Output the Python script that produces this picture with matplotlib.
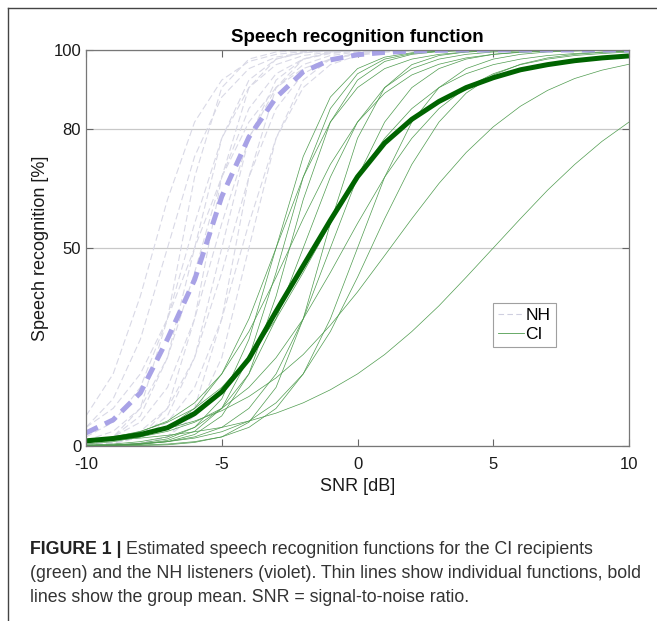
import matplotlib
matplotlib.use("Agg")
import matplotlib.pyplot as plt
from matplotlib.lines import Line2D

plt.rcParams['font.family'] = ['Liberation Sans', 'DejaVu Sans']
plt.rcParams['axes.unicode_minus'] = False

# SNR grid (dB)
snr = [-10, -9, -8, -7, -6, -5, -4, -3, -2, -1, 0, 1, 2, 3, 4, 5, 6, 7, 8, 9, 10]

# individual NH listeners (%)
nh_curves = [
    [7.6, 18.2, 37.8, 62.2, 81.8, 92.4, 97.1, 98.9, 99.6, 99.8, 99.9, 100, 100, 100, 100, 100, 100, 100, 100, 100, 100],
    [4.7, 11.9, 26.9, 50, 73.1, 88.1, 95.3, 98.2, 99.3, 99.75, 99.9, 100, 100, 100, 100, 100, 100, 100, 100, 100, 100],
    [0.5, 2.3, 9.5, 32.1, 67.9, 90.5, 97.7, 99.5, 99.9, 100, 100, 100, 100, 100, 100, 100, 100, 100, 100, 100, 100],
    [2.3, 6.0, 14.8, 32.1, 56.2, 77.7, 90.5, 96.3, 98.6, 99.5, 99.8, 99.9, 100, 100, 100, 100, 100, 100, 100, 100, 100],
    [0.7, 2.3, 7.6, 22.3, 50, 77.7, 92.4, 97.7, 99.3, 99.8, 99.9, 100, 100, 100, 100, 100, 100, 100, 100, 100, 100],
    [1.4, 3.7, 9.5, 22.3, 43.8, 67.9, 85.2, 94.0, 97.7, 99.1, 99.7, 99.9, 100, 100, 100, 100, 100, 100, 100, 100, 100],
    [0.1, 0.5, 2.3, 9.5, 32.1, 67.9, 90.5, 97.7, 99.5, 99.9, 100, 100, 100, 100, 100, 100, 100, 100, 100, 100, 100],
    [0.9, 2.3, 6.0, 14.8, 32.1, 56.2, 77.7, 90.5, 96.3, 98.6, 99.5, 99.8, 99.9, 100, 100, 100, 100, 100, 100, 100, 100],
    [0.2, 0.7, 2.3, 7.6, 22.3, 50, 77.7, 92.4, 97.7, 99.3, 99.8, 99.9, 100, 100, 100, 100, 100, 100, 100, 100, 100],
    [0.5, 1.4, 3.7, 9.5, 22.3, 43.8, 67.9, 85.2, 94.0, 97.7, 99.1, 99.7, 99.9, 100, 100, 100, 100, 100, 100, 100, 100],
    [0.0, 0.1, 0.5, 2.3, 9.5, 32.1, 67.9, 90.5, 97.7, 99.5, 99.9, 100, 100, 100, 100, 100, 100, 100, 100, 100, 100],
    [0.3, 0.9, 2.3, 6.0, 14.8, 32.1, 56.2, 77.7, 90.5, 96.3, 98.6, 99.5, 99.8, 99.9, 100, 100, 100, 100, 100, 100, 100],
    [0.1, 0.2, 0.7, 2.3, 7.6, 22.3, 50, 77.7, 92.4, 97.7, 99.3, 99.8, 99.9, 100, 100, 100, 100, 100, 100, 100, 100],
    [4.7, 9.5, 18.2, 32.1, 50, 67.9, 81.8, 90.5, 95.3, 97.7, 98.9, 99.5, 99.75, 99.9, 99.9, 100, 100, 100, 100, 100, 100],
]

# individual CI recipients (%)
ci_curves = [
    [0.1, 0.25, 0.7, 1.8, 4.7, 11.9, 26.9, 50, 73.1, 88.1, 95.3, 98.2, 99.3, 99.75, 99.9, 100, 100, 100, 100, 100, 100],
    [0.5, 1.1, 2.3, 4.7, 9.5, 18.2, 32.1, 50, 67.9, 81.8, 90.5, 95.3, 97.7, 98.9, 99.5, 99.75, 99.9, 99.9, 100, 100, 100],
    [0.1, 0.2, 0.5, 1.4, 3.7, 9.5, 22.3, 43.8, 67.9, 85.2, 94.0, 97.7, 99.1, 99.7, 99.9, 100, 100, 100, 100, 100, 100],
    [1.1, 2.0, 3.6, 6.3, 10.9, 18.2, 28.9, 42.6, 57.4, 71.1, 81.8, 89.1, 93.7, 96.4, 98.0, 98.9, 99.4, 99.7, 99.8, 99.9, 99.9],
    [0.1, 0.15, 0.4, 1.1, 2.9, 7.6, 18.2, 37.8, 62.2, 81.8, 92.4, 97.1, 98.9, 99.6, 99.85, 99.9, 100, 100, 100, 100, 100],
    [0.25, 0.5, 1.1, 2.3, 4.7, 9.5, 18.2, 32.1, 50, 67.9, 81.8, 90.5, 95.3, 97.7, 98.9, 99.5, 99.75, 99.9, 99.9, 100, 100],
    [1.4, 2.3, 3.7, 6.0, 9.5, 14.8, 22.3, 32.1, 43.8, 56.2, 67.9, 77.7, 85.2, 90.5, 94.0, 96.3, 97.7, 98.6, 99.1, 99.5, 99.7],
    [0.0, 0.04, 0.1, 0.3, 0.9, 2.3, 6.0, 14.8, 32.1, 56.2, 77.7, 90.5, 96.3, 98.6, 99.5, 99.8, 99.9, 100, 100, 100, 100],
    [0.1, 0.25, 0.5, 1.1, 2.3, 4.7, 9.5, 18.2, 32.1, 50, 67.9, 81.8, 90.5, 95.3, 97.7, 98.9, 99.5, 99.75, 99.9, 99.9, 100],
    [0.9, 1.4, 2.3, 3.7, 6.0, 9.5, 14.8, 22.3, 32.1, 43.8, 56.2, 67.9, 77.7, 85.2, 90.5, 94.0, 96.3, 97.7, 98.6, 99.1, 99.5],
    [0.1, 0.1, 0.25, 0.5, 1.1, 2.3, 4.7, 9.5, 18.2, 32.1, 50, 67.9, 81.8, 90.5, 95.3, 97.7, 98.9, 99.5, 99.75, 99.9, 99.9],
    [0.2, 0.3, 0.6, 1.1, 2.0, 3.6, 6.3, 10.9, 18.2, 28.9, 42.6, 57.4, 71.1, 81.8, 89.1, 93.7, 96.4, 98.0, 98.9, 99.4, 99.7],
    [1.5, 2.1, 3.1, 4.4, 6.3, 8.9, 12.5, 17.2, 23.1, 30.5, 38.9, 48.1, 57.4, 66.3, 74.1, 80.6, 85.8, 89.8, 92.8, 94.9, 96.4],
    [1.1, 1.5, 2.0, 2.7, 3.6, 4.7, 6.3, 8.3, 10.9, 14.2, 18.2, 23.1, 28.9, 35.4, 42.6, 50, 57.4, 64.6, 71.1, 76.9, 81.8],
]

# group means (%)
nh_mean = [3.3, 6.6, 13.4, 27, 42, 63, 78, 88, 94.5, 97.5, 98.8, 99.4, 99.7, 99.9, 100, 100, 100, 100, 100, 100, 100]
ci_mean = [1.3, 1.9, 2.9, 4.6, 8.2, 13.7, 22, 34, 45.5, 57, 68, 76.5, 82.5, 87, 90.5, 93, 95, 96.3, 97.3, 98, 98.5]

x_ticks = [-10, -5, 0, 5, 10]
y_ticks = [0, 50, 80, 100]

caption_bold = 'FIGURE 1 | '
caption_lines = ['Estimated speech recognition functions for the CI recipients',
                 '(green) and the NH listeners (violet). Thin lines show individual functions, bold',
                 'lines show the group mean. SNR = signal-to-noise ratio.']

fig = plt.figure(figsize=(6.57, 6.21), dpi=100)
ax = fig.add_axes([0.1309, 0.2818, 0.8265, 0.6377])

nh_col = '#d9d9e6'
ci_col = '#4f9c4f'

for c in nh_curves:
    ax.plot(snr, c, color=nh_col, lw=0.8, ls=(0, (6, 3)))
for c in ci_curves:
    ax.plot(snr, c, color=ci_col, lw=0.5)

ax.plot(snr, ci_mean, color='#006400', lw=3.6, solid_capstyle='butt')
ax.plot(snr, nh_mean, color='#a8a2e6', lw=3.6, ls=(0, (2.6, 1.6)))

ax.set_xlim(-10, 10)
ax.set_ylim(0, 100)
ax.set_xticks(x_ticks)
ax.set_yticks(y_ticks)
ax.yaxis.grid(True, color='#c8c8c8', lw=0.9)
ax.set_axisbelow(True)
ax.tick_params(direction='in', top=True, right=True, labelsize=12, length=5,
               color='#666666', width=0.8, labelcolor='#1a1a1a')
ax.tick_params(axis='x', pad=8)
for s in ax.spines.values():
    s.set_color('#777777')
    s.set_linewidth(0.9)

ax.set_title('Speech recognition function', fontsize=13.5, fontweight='bold', pad=6)
ax.set_xlabel('SNR [dB]', fontsize=13, labelpad=4, color='#1a1a1a')
ax.set_ylabel('Speech recognition [%]', fontsize=13, labelpad=3, color='#1a1a1a')

handles = [Line2D([], [], color='#cfcfe0', lw=0.8, ls=(0, (5, 3))),
           Line2D([], [], color=ci_col, lw=0.6)]
leg = ax.legend(handles, ['NH', 'CI'], loc='upper left', bbox_to_anchor=(0.75, 0.362),
                fontsize=12.5, frameon=True, fancybox=False, handlelength=1.45,
                handletextpad=0.1, borderpad=0.3, labelspacing=0.2, borderaxespad=0)
leg.get_frame().set_edgecolor('#888888')
leg.get_frame().set_linewidth(0.8)

# outer frame (left and top edges)
fx = 8 / 657
fy = 1 - 8 / 621
fig.add_artist(Line2D([fx, fx], [0, fy], color='#444444', lw=1.0, transform=fig.transFigure))
fig.add_artist(Line2D([fx, 1], [fy, fy], color='#444444', lw=1.0, transform=fig.transFigure))

# caption
cap_fs = 12.8
cap_x = 30 / 657
line_y = [1 - 549 / 621, 1 - 574 / 621, 1 - 598 / 621]
t0 = fig.text(cap_x, line_y[0], caption_bold, fontsize=cap_fs, fontweight='bold',
              va='center', color='#222222')
fig.canvas.draw()
bb = t0.get_window_extent(renderer=fig.canvas.get_renderer())
fig.text(bb.x1 / fig.bbox.width, line_y[0], caption_lines[0],
         fontsize=cap_fs, va='center', color='#333333')
fig.text(cap_x, line_y[1], caption_lines[1], fontsize=cap_fs, va='center', color='#333333')
fig.text(cap_x, line_y[2], caption_lines[2], fontsize=cap_fs, va='center', color='#333333')

fig.savefig('out.png', dpi=100)
